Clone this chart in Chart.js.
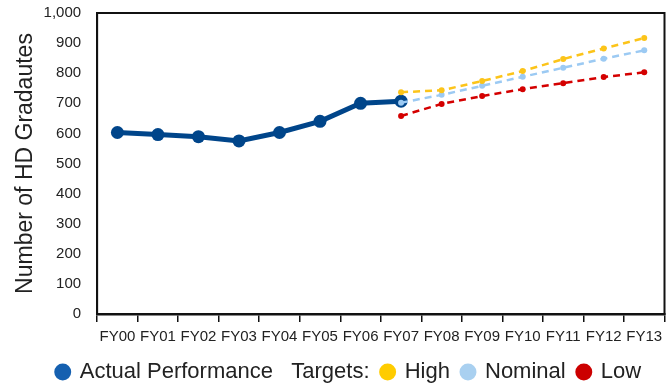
<!DOCTYPE html>
<html>
<head>
<meta charset="utf-8">
<script src="https://cdn.jsdelivr.net/npm/chart.js@4.4.1/dist/chart.umd.min.js"></script>
<style>
  html, body { margin: 0; padding: 0; background: #fff; }
  #wrap { width: 671px; height: 390px; }
</style>
</head>
<body>
<div id="wrap"><canvas id="chart" width="671" height="390"></canvas></div>
<script>
const fiscalYears = ['FY00', 'FY01', 'FY02', 'FY03', 'FY04', 'FY05', 'FY06', 'FY07', 'FY08', 'FY09', 'FY10', 'FY11', 'FY12', 'FY13'];
const actualGrads = [603, 596, 589, 575, 603, 640, 700, 707, null, null, null, null, null, null];
const targetHigh = [null, null, null, null, null, null, null, 737, 743, 774, 807, 847, 882, 917];
const targetNominal = [null, null, null, null, null, null, null, 702, 728, 758, 788, 818, 848, 876];
const targetLow = [null, null, null, null, null, null, null, 658, 698, 724, 747, 767, 787, 803];
const legendColors = ['#1560b0', '#ffcc00', '#a9d0f0', '#cc0000'];

const FONT = "'Liberation Sans', Arial, sans-serif";
const textColor = '#222';

// box around the plot area, and nudge the legend a little lower/right
const plotFrame = {
  id: 'plotFrame',
  afterLayout(chart) {
    const lg = chart.legend;
    lg.top += 3; lg.bottom += 3;
    lg.left += 12; lg.right += 12;
  },
  afterDatasetsDraw(chart) {
    const { ctx, chartArea: a } = chart;
    ctx.save();
    ctx.strokeStyle = '#111';
    ctx.lineWidth = 2;
    ctx.strokeRect(a.left, a.top, a.right - a.left, a.bottom - a.top);
    ctx.restore();
  }
};

function targetSet(label, data, color) {
  return {
    label: label,
    data: data,
    borderColor: color,
    backgroundColor: color,
    borderWidth: 2.5,
    borderDash: [7, 5],
    pointRadius: 3,
    pointBorderWidth: 0,
    pointHoverRadius: 3,
    order: 0
  };
}

new Chart(document.getElementById('chart'), {
  type: 'line',
  data: {
    labels: fiscalYears,
    datasets: [
      {
        label: 'Actual Performance',
        data: actualGrads,
        borderColor: '#00458a',
        backgroundColor: '#00458a',
        borderWidth: 5,
        pointRadius: 6.5,
        pointHoverRadius: 6.5,
        pointBorderWidth: 0,
        order: 1
      },
      targetSet('High', targetHigh, '#fcc419'),
      targetSet('Nominal', targetNominal, '#9ccaf3'),
      targetSet('Low', targetLow, '#d40000')
    ]
  },
  options: {
    responsive: false,
    animation: false,
    layout: { padding: { top: 13, right: 3, left: 12, bottom: 0 } },
    plugins: {
      tooltip: { enabled: false },
      legend: {
        position: 'bottom',
        labels: {
          usePointStyle: true,
          pointStyle: 'circle',
          boxWidth: 12,
          boxHeight: 12,
          padding: 6,
          color: textColor,
          font: { family: FONT, size: 22 },
          // "Targets:" rides along with the first entry
          generateLabels(chart) {
            return chart.data.datasets.map((ds, i) => ({
              text: i === 0 ? ds.label + '   Targets: ' : ds.label + ' ',
              fillStyle: legendColors[i],
              strokeStyle: legendColors[i],
              lineWidth: 0,
              pointStyle: 'circle',
              fontColor: textColor,
              hidden: false,
              datasetIndex: i
            }));
          }
        }
      }
    },
    scales: {
      x: {
        offset: true,
        grid: {
          display: true,
          offset: true,
          drawOnChartArea: false,
          drawTicks: true,
          tickLength: 8,
          color: '#111',
          lineWidth: 1.5
        },
        border: { display: true, color: '#111', width: 2.5 },
        ticks: {
          color: textColor,
          padding: 6,
          maxRotation: 0,
          autoSkip: false,
          font: { family: FONT, size: 15 }
        }
      },
      y: {
        min: 0,
        max: 1000,
        grid: { display: false, drawTicks: false },
        border: { display: true, color: '#111', width: 2 },
        ticks: {
          stepSize: 100,
          autoSkip: false,
          color: textColor,
          padding: 16,
          font: { family: FONT, size: 15 },
          callback: v => v.toLocaleString('en-US')
        },
        title: {
          display: true,
          text: 'Number of HD Gradautes',
          color: textColor,
          padding: { top: 0, bottom: -12 },
          font: { family: FONT, size: 23 }
        },
        afterFit(scale) {
          scale.paddingTop = 9;
          scale.paddingBottom = 9;
        }
      }
    }
  },
  plugins: [plotFrame]
});
</script>
</body>
</html>
